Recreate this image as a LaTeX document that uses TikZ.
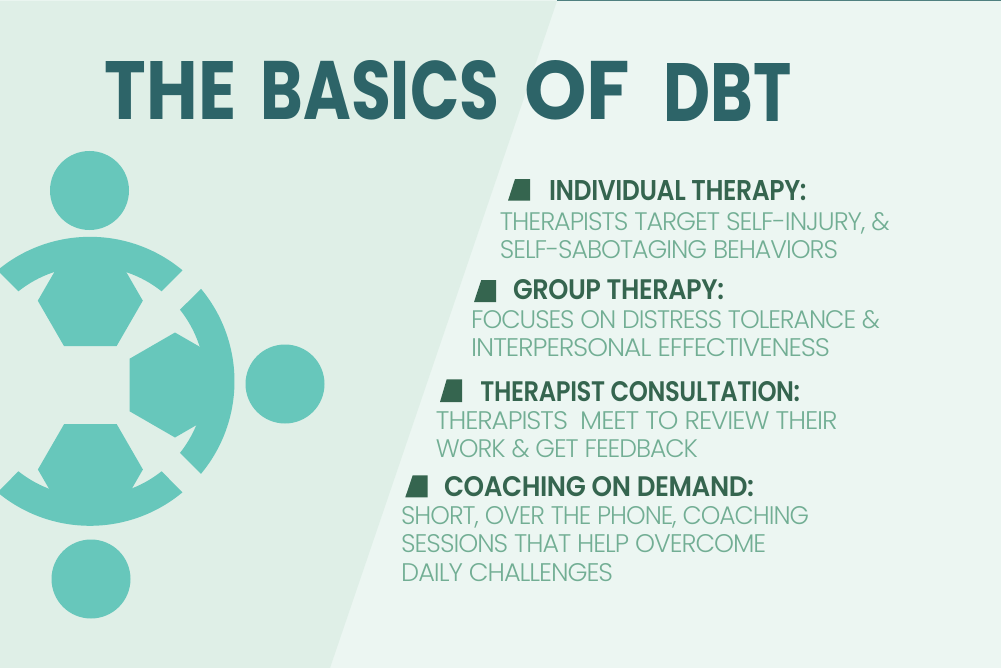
\documentclass[tikz,border=0pt]{standalone}
\usepackage{fontspec}
\usepackage{graphicx}
\newfontfamily\titlefont{Poppins}[UprightFont=* Bold]
\newfontfamily\headfont{Poppins}[UprightFont=* SemiBold, LetterSpace=-1.5]
\newfontfamily\bodyfont{Poppins}[UprightFont=* Light, LetterSpace=-4]
\definecolor{leftbg}{HTML}{DFEFE7}
\definecolor{rightbg}{HTML}{ECF6F2}
\definecolor{toprule}{HTML}{4F8080}
\definecolor{figteal}{HTML}{67C7BB}
\definecolor{titleteal}{HTML}{2D6468}
\definecolor{headgreen}{HTML}{35654F}
\definecolor{bodygreen}{HTML}{72AE94}
\newcommand{\fitline}[3]{\resizebox{#1bp}{#2bp}{#3}}
\tikzset{
        figpart/.style={fill=figteal},
        bullet/.style={fill=headgreen},
        titleline/.style={anchor=base west, inner sep=0pt, text=titleteal, font=\titlefont},
        headline/.style={anchor=base west, inner sep=0pt, text=headgreen, font=\headfont},
        bodyline/.style={anchor=base west, inner sep=0pt, text=bodygreen, font=\bodyfont}
          }
\begin{document}
\begin{tikzpicture}[x=1bp, y=-1bp]
        \useasboundingbox (0,0) rectangle (1001,668);
        % background
        \fill[rightbg] (0,0) rectangle (1001,668);
        \fill[leftbg] (0,1) -- (557,1) -- (330,668) -- (0,668) -- cycle;
        \fill[toprule] (557,0) rectangle (1001,1);
        % title
        \node[titleline] (titlethe) at (104.5,120) {\fitline{131.5}{58}{THE}};
        \node[titleline] (titlebasics) at (260.5,120) {\fitline{238.5}{59}{BASICS}};
        \node[titleline] (titleof) at (524,120) {\fitline{106}{59}{OF}};
        \node[titleline] (titledbt) at (663.5,121.7) {\fitline{128}{58}{DBT}};
        % heads
        \foreach \hx/\hy in {89.5/190.5, 285/384, 91/579}
          \fill[figpart] (\hx,\hy) circle[radius=39.5];
        % bodies
        \foreach \hx/\hy/\rot in {90.3/300.7/0, 175/385/30, 90.4/469.5/0}
          \fill[figpart, shift={(\hx,\hy)}, rotate=\rot]
            (0:52.5) -- (60:52.5) -- (120:52.5) -- (180:52.5) -- (240:52.5) -- (300:52.5) -- cycle;
        % arms
        \foreach \rot in {0,90,-90}
          \fill[figpart, shift={(90,381.3)}, rotate=\rot]
            (-39.8:144.5) arc[start angle=-39.8, end angle=39.8, radius=144.5]
            -- (38.5:115) arc[start angle=38.5, end angle=-38.5, radius=115] -- cycle;
        % bullets
        \foreach \bl/\bt/\br/\ty/\by in {508/515/530/179/200.7, 474/481.3/496/280/302, 440/446.7/462/379.3/402, 405.3/412.7/427.7/475.3/497.3}
          \fill[bullet] (\bl,\by) -- (\bt,\ty) -- (\br,\ty) -- (\br,\by) -- cycle;
        % list
        \node[headline] (individual) at (548.8,200.7) {\fitline{257.4}{20}{INDIVIDUAL THERAPY:}};
        \node[bodyline] (ind1) at (499.7,230) {\fitline{389.8}{18}{THERAPISTS TARGET SELF-INJURY, \&}};
        \node[bodyline] (ind2) at (499.7,258.7) {\fitline{338}{18}{SELF-SABOTAGING BEHAVIORS}};
        \node[headline] (group) at (512.8,299.3) {\fitline{211}{20}{GROUP THERAPY:}};
        \node[bodyline] (grp1) at (471,328.3) {\fitline{408.8}{18}{FOCUSES ON DISTRESS TOLERANCE \&}};
        \node[bodyline] (grp2) at (471,356.7) {\fitline{358.8}{18}{INTERPERSONAL EFFECTIVENESS}};
        \node[headline] (consult) at (480.2,401) {\fitline{319.6}{20}{THERAPIST CONSULTATION:}};
        \node[bodyline] (con1) at (435.7,429) {\fitline{401.5}{18}{THERAPISTS\ \ MEET TO REVIEW THEIR}};
        \node[bodyline] (con2) at (435.7,457.7) {\fitline{262}{18}{WORK \& GET FEEDBACK}};
        \node[headline] (coaching) at (443.8,496) {\fitline{310}{20}{COACHING ON DEMAND:}};
        \node[bodyline] (coa1) at (401,524.7) {\fitline{407.8}{18}{SHORT, OVER THE PHONE, COACHING}};
        \node[bodyline] (coa2) at (401,552.7) {\fitline{365}{18}{SESSIONS THAT HELP OVERCOME}};
        \node[bodyline] (coa3) at (401,581.3) {\fitline{211.8}{18}{DAILY CHALLENGES}};
      \end{tikzpicture}
\end{document}
